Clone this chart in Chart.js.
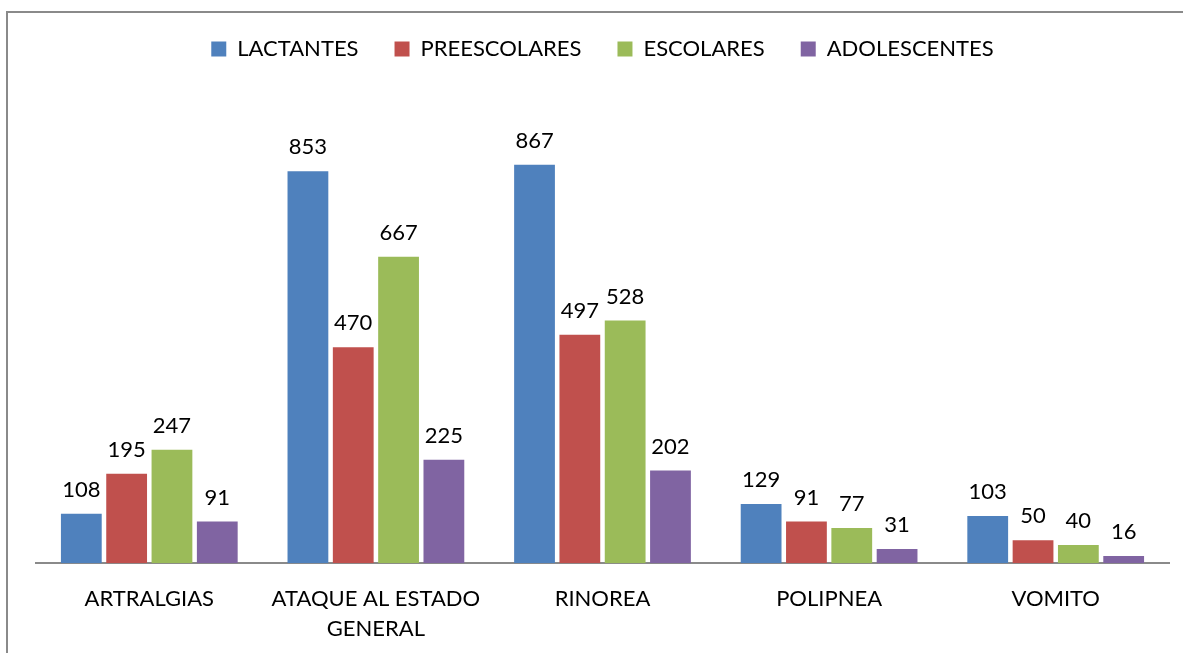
<!DOCTYPE html>
<html>
<head>
<meta charset="utf-8">
<script src="https://cdn.jsdelivr.net/npm/chart.js@4.4.0/dist/chart.umd.min.js"></script>
<style>
  html, body { margin: 0; padding: 0; background: #fff; overflow: hidden; }
  #wrap { position: absolute; left: 0; top: 0; width: 1183px; height: 653px; }
  #frame { position: absolute; left: 6px; top: 11px; width: 1200px; height: 700px;
           border: 2px solid #8a8a8a; pointer-events: none; }
</style>
</head>
<body>
<div id="wrap"><canvas id="chart" width="1183" height="653"></canvas></div>
<div id="frame"></div>
<script>
// categories and series
var categories = ["ARTRALGIAS", ["ATAQUE AL ESTADO", "GENERAL"], "RINOREA", "POLIPNEA", "VOMITO"];
var lactantes    = [108, 853, 867, 129, 103];
var preescolares = [195, 470, 497, 91, 50];
var escolares    = [247, 667, 528, 77, 40];
var adolescentes = [91, 225, 202, 31, 16];

var fontFamily = "Lato, 'Open Sans', sans-serif";

// draw the value above each bar
var valueLabels = {
  id: "valueLabels",
  afterDatasetsDraw: function(chart) {
    var ctx = chart.ctx;
    ctx.save();
    ctx.font = "22px " + fontFamily;
    ctx.fillStyle = "#000";
    ctx.textAlign = "center";
    ctx.textBaseline = "bottom";
    chart.data.datasets.forEach(function(ds, i) {
      chart.getDatasetMeta(i).data.forEach(function(bar, j) {
        ctx.fillText(ds.data[j], bar.x, bar.y - 13);
      });
    });
    ctx.restore();
  }
};

var chart = new Chart(document.getElementById("chart"), {
  type: "bar",
  data: {
    labels: categories,
    datasets: [
      { label: "LACTANTES", data: lactantes, backgroundColor: "#4F81BD" },
      { label: "PREESCOLARES", data: preescolares, backgroundColor: "#C0504D" },
      { label: "ESCOLARES", data: escolares, backgroundColor: "#9BBB59" },
      { label: "ADOLESCENTES", data: adolescentes, backgroundColor: "#8064A2" }
    ]
  },
  options: {
    responsive: false,
    animation: false,
    layout: { padding: { left: 36, right: 14, top: 2, bottom: -11 } },
    plugins: {
      legend: {
        position: "top",
        labels: { boxWidth: 15, boxHeight: 15, padding: 36, color: "#000",
                  font: { size: 22, family: fontFamily } }
      },
      tooltip: { enabled: false }
    },
    scales: {
      x: {
        grid: { display: false, drawTicks: false },
        border: { display: true, color: "#8a8a8a", width: 2 },
        ticks: { color: "#000", font: { size: 22, family: fontFamily, lineHeight: 1.38 },
                 padding: 20, maxRotation: 0 }
      },
      y: {
        display: false,
        min: 0,
        max: 1073
      }
    }
  },
  plugins: [valueLabels]
});
</script>
</body>
</html>
